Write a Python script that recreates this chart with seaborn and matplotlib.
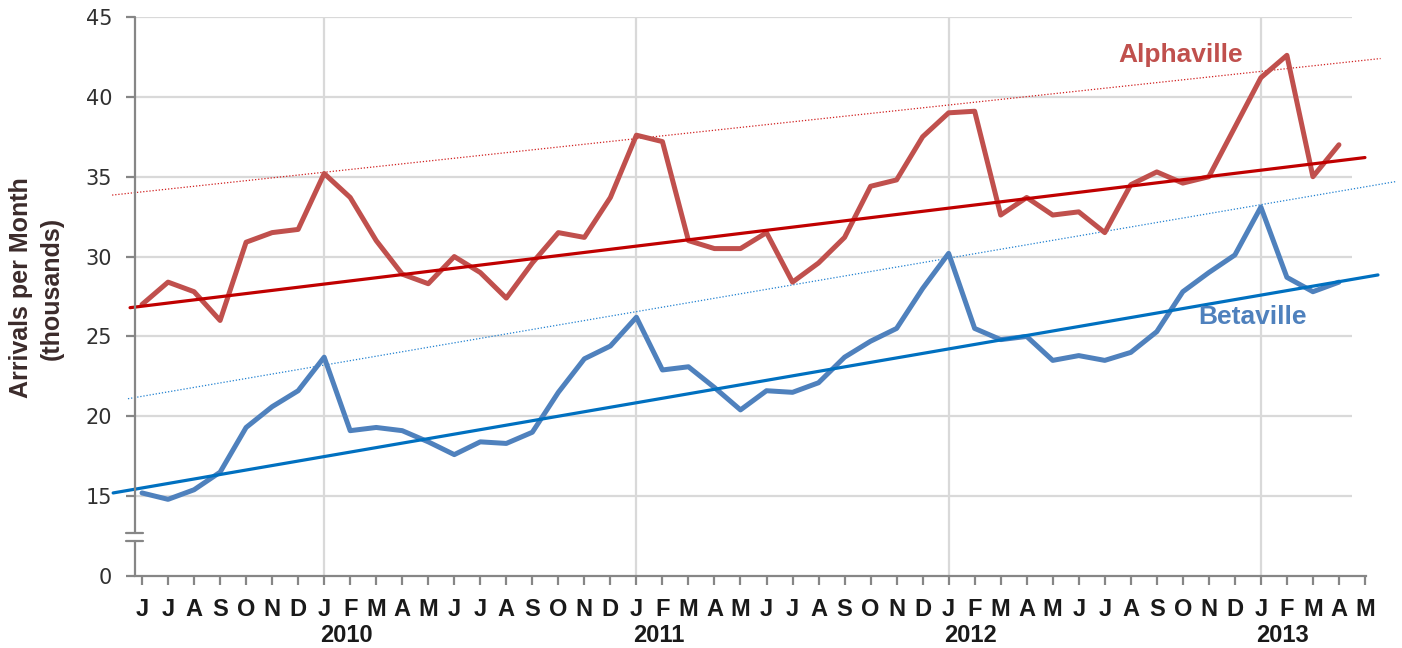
import matplotlib
matplotlib.use("Agg")
import matplotlib.pyplot as plt
import matplotlib.transforms as mtransforms
import seaborn as sns

# month letters, Jun 2009 .. May 2013
months = list("JJASOND") + list("JFMAMJJASOND") * 3 + list("JFMAM")
years = ["2010", "2011", "2012", "2013"]
year_jan = [7, 19, 31, 43]

# arrivals per month (thousands), Jun 2009 .. Apr 2013
alphaville = [27.0, 28.4, 27.8, 26.0, 30.9, 31.5, 31.7,
              35.2, 33.7, 31.0, 28.9, 28.3, 30.0, 29.0, 27.4, 29.6, 31.5, 31.2, 33.7,
              37.6, 37.2, 31.0, 30.5, 30.5, 31.5, 28.4, 29.6, 31.2, 34.4, 34.8, 37.5,
              39.0, 39.1, 32.6, 33.7, 32.6, 32.8, 31.5, 34.5, 35.3, 34.6, 35.0, 38.1,
              41.2, 42.6, 35.0, 37.0]
betaville = [15.2, 14.8, 15.4, 16.5, 19.3, 20.6, 21.6,
             23.7, 19.1, 19.3, 19.1, 18.4, 17.6, 18.4, 18.3, 19.0, 21.5, 23.6, 24.4,
             26.2, 22.9, 23.1, 21.8, 20.4, 21.6, 21.5, 22.1, 23.7, 24.7, 25.5, 28.0,
             30.2, 25.5, 24.8, 25.0, 23.5, 23.8, 23.5, 24.0, 25.3, 27.8, 29.0, 30.1,
             33.1, 28.7, 27.8, 28.4]

# trend lines (month index, value)
alpha_trend_x = [-0.46, 47.0]
alpha_trend_y = [26.8, 36.2]
alpha_upper_x = [-1.15, 47.6]
alpha_upper_y = [33.85, 42.4]
beta_trend_x = [-1.11, 47.5]
beta_trend_y = [15.2, 28.85]
beta_upper_x = [-0.54, 48.2]
beta_upper_y = [21.1, 34.7]

# y axis is broken: 0 is drawn where 10 would be
ytick_vals = [10, 15, 20, 25, 30, 35, 40, 45]
ytick_labels = ["0", "15", "20", "25", "30", "35", "40", "45"]

sns.set_style("white")
plt.rcParams['font.family'] = ['Liberation Sans', 'DejaVu Sans']

fig = plt.figure(figsize=(14.02, 6.48), dpi=100)
ax = fig.add_axes([135 / 1402, 1 - 576 / 648, (1366 - 135) / 1402, (576 - 17) / 648])

grid_c = "#d9d9d9"
ax.hlines(ytick_vals[1:], -0.27, 46.5, color=grid_c, lw=1.6, zorder=0)
ax.vlines(year_jan, 10, 45, color=grid_c, lw=1.6, zorder=0)

x_idx = list(range(len(alphaville)))
sns.lineplot(x=x_idx, y=alphaville, ax=ax, color="#c0504d", lw=3.6, zorder=3)
sns.lineplot(x=x_idx, y=betaville, ax=ax, color="#4f81bd", lw=3.6, zorder=3)
sns.lineplot(x=alpha_trend_x, y=alpha_trend_y, ax=ax, color="#c00000", lw=2.3, zorder=4)
sns.lineplot(x=beta_trend_x, y=beta_trend_y, ax=ax, color="#0070c0", lw=2.3, zorder=4)
sns.lineplot(x=alpha_upper_x, y=alpha_upper_y, ax=ax, color="#d02020", lw=0.9,
             ls=(0, (1, 1.5)), zorder=2)
sns.lineplot(x=beta_upper_x, y=beta_upper_y, ax=ax, color="#2080d0", lw=0.9,
             ls=(0, (1, 1.5)), zorder=2)
for ln in ax.lines:
    ln.set_clip_on(False)

ax.set_xlim(-0.27, 47.04)
ax.set_ylim(10, 45)

axis_c = "#868686"
for s in ["top", "right", "left"]:
    ax.spines[s].set_visible(False)
ax.spines["bottom"].set_color(axis_c)
ax.spines["bottom"].set_linewidth(1.6)

# left axis drawn by hand so it can have the break
ax.plot([-0.27, -0.27], [12.7, 45], color=axis_c, lw=1.6, clip_on=False, zorder=5)
ax.plot([-0.27, -0.27], [10, 12.2], color=axis_c, lw=1.6, clip_on=False, zorder=5)
ax.plot([-0.61, 0.04], [12.7, 12.7], color=axis_c, lw=1.6, clip_on=False, zorder=5)
ax.plot([-0.61, 0.04], [12.2, 12.2], color=axis_c, lw=1.6, clip_on=False, zorder=5)

ax.set_yticks(ytick_vals)
ax.set_yticklabels(ytick_labels, family=['DejaVu Sans'], fontsize=15, color="#303030")
ax.tick_params(axis="y", direction="out", length=6.5, width=1.6, color=axis_c,
               pad=10, left=True)
ax.set_xticks(range(len(months)))
ax.set_xticklabels(months, fontweight="bold", fontsize=17, color="#1a1a1a")
ax.tick_params(axis="x", direction="out", length=6.5, width=1.6, color=axis_c,
               pad=9, bottom=True)

trans = mtransforms.blended_transform_factory(ax.transData, fig.transFigure)
for yr, j in zip(years, year_jan):
    ax.text(j + 0.85, 1 - 636 / 648, yr, transform=trans, ha="center", va="center",
            fontweight="bold", fontsize=17, color="#1a1a1a")

fig.text(36 / 1402, 1 - 288 / 648, "Arrivals per Month\n(thousands)", rotation=90,
         ha="center", va="center", fontweight="bold", fontsize=18,
         color="#3b2b2b", linespacing=1.35)

fig.text(1181 / 1402, 1 - 55 / 648, "Alphaville", ha="center", va="center",
         fontweight="bold", fontsize=19, color="#c0504d")
fig.text(1252 / 1402, 1 - 317 / 648, "Betaville", ha="center", va="center",
         fontweight="bold", fontsize=19, color="#4f81bd")

fig.savefig("out.png", dpi=100)
